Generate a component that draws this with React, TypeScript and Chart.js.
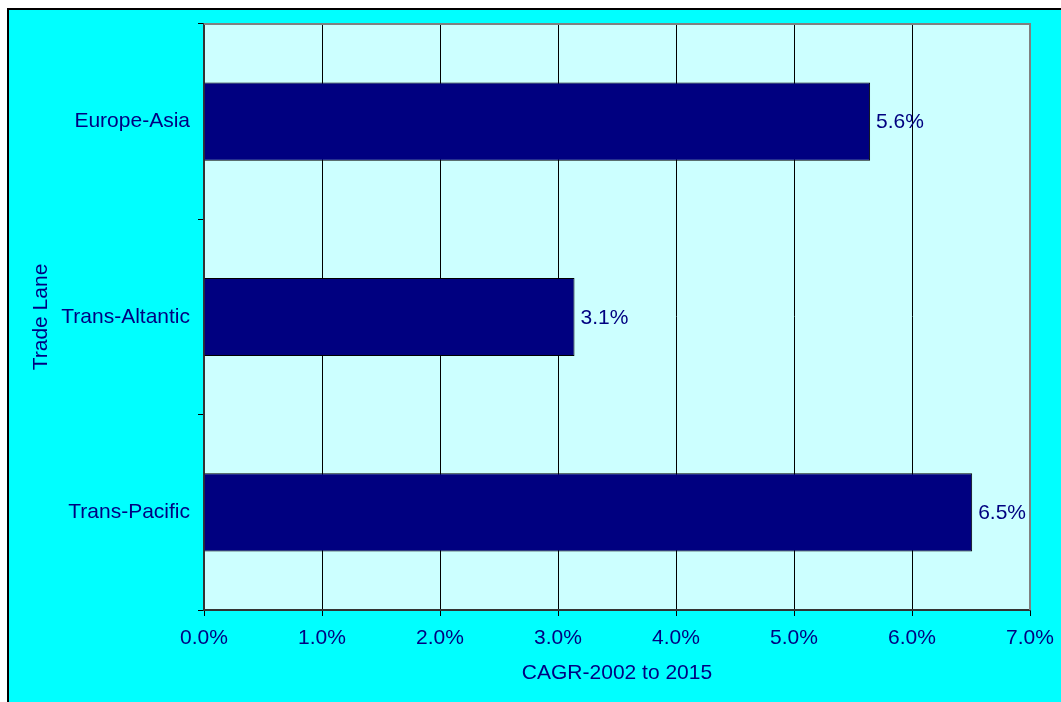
import React, { useEffect, useRef } from "react";
import { Chart, registerables } from "chart.js";

Chart.register(...registerables);

const categories = ["Europe-Asia", "Trans-Altantic", "Trans-Pacific"];
const cagrValues = [5.645, 3.14, 6.51];
const valueLabels = ["5.6%", "3.1%", "6.5%"];
const xTickMin = 0;
const xTickMax = 7;
const xAxisTitle = "CAGR-2002 to 2015";
const yAxisTitle = "Trade Lane";

const NAVY = "#000080";
const FONT_FAMILY = "'Liberation Sans', Arial, sans-serif";
const FONT_SIZE = 21;

const backgroundPlugin = {
  id: "bgPlugin",
  beforeDraw(chart: any) {
    const { ctx, width, height, chartArea } = chart;
    ctx.save();
    ctx.fillStyle = "#00FFFF";
    ctx.fillRect(0, 0, width, height);
    ctx.strokeStyle = "#000000";
    ctx.lineWidth = 2;
    ctx.beginPath();
    ctx.moveTo(1, height + 5);
    ctx.lineTo(1, 1);
    ctx.lineTo(width + 5, 1);
    ctx.stroke();
    ctx.fillStyle = "#CCFFFF";
    ctx.fillRect(chartArea.left, chartArea.top, chartArea.right - chartArea.left, chartArea.bottom - chartArea.top);
    ctx.restore();
  },
  afterDatasetsDraw(chart: any) {
    const { ctx, chartArea } = chart;
    ctx.save();
    ctx.strokeStyle = "#808080";
    ctx.lineWidth = 2;
    ctx.beginPath();
    ctx.moveTo(chartArea.left, chartArea.top);
    ctx.lineTo(chartArea.right, chartArea.top);
    ctx.lineTo(chartArea.right, chartArea.bottom);
    ctx.stroke();
    const meta = chart.getDatasetMeta(0);
    ctx.fillStyle = NAVY;
    ctx.font = `${FONT_SIZE}px ${FONT_FAMILY}`;
    ctx.textAlign = "left";
    ctx.textBaseline = "middle";
    meta.data.forEach((bar: any, i: number) => {
      ctx.fillText(valueLabels[i], bar.x + 6, bar.y + 1);
    });
    ctx.restore();
  },
};

export default function App() {
  const canvasRef = useRef<HTMLCanvasElement | null>(null);

  useEffect(() => {
    document.body.style.overflow = "hidden";
    document.documentElement.style.overflow = "hidden";
    const canvas = canvasRef.current;
    if (!canvas) return;
    const chart = new Chart(canvas, {
      type: "bar",
      data: {
        labels: categories,
        datasets: [
          {
            data: cagrValues,
            backgroundColor: NAVY,
            borderColor: "#000000",
            borderWidth: 1,
            barPercentage: 0.4,
            categoryPercentage: 1,
          },
        ],
      },
      plugins: [backgroundPlugin],
      options: {
        indexAxis: "y",
        animation: false,
        responsive: false,
        maintainAspectRatio: false,
        layout: { padding: { left: 0, top: 16, right: 31, bottom: 0 } },
        plugins: {
          legend: { display: false },
          tooltip: { enabled: false },
        },
        scales: {
          x: {
            type: "linear",
            min: xTickMin,
            max: xTickMax,
            ticks: {
              stepSize: 1,
              color: NAVY,
              font: { family: FONT_FAMILY, size: FONT_SIZE },
              padding: 10,
              callback: (v: any) => Number(v).toFixed(1) + "%",
            },
            grid: {
              color: "#000000",
              lineWidth: 1,
              tickLength: 6,
              drawTicks: true,
            },
            border: { display: true, color: "#333333", width: 2 },
            title: {
              display: true,
              text: xAxisTitle,
              color: NAVY,
              font: { family: FONT_FAMILY, size: FONT_SIZE },
              padding: { top: 0, bottom: 16 },
            },
            afterFit: (scale: any) => {
              scale.height = 92;
              scale.paddingLeft = 0;
              scale.paddingRight = 0;
            },
          },
          y: {
            type: "category",
            offset: true,
            ticks: {
              color: NAVY,
              font: { family: FONT_FAMILY, size: FONT_SIZE },
              padding: 8,
            },
            grid: {
              offset: true,
              drawOnChartArea: false,
              color: "#000000",
              tickLength: 6,
            },
            border: { display: true, color: "#333333", width: 2 },
            title: {
              display: true,
              text: yAxisTitle,
              color: NAVY,
              font: { family: FONT_FAMILY, size: FONT_SIZE },
              padding: { top: 22, bottom: 0 },
            },
            afterFit: (scale: any) => {
              scale.width = 197;
              scale.paddingTop = 0;
              scale.paddingBottom = 0;
            },
          },
        },
      },
    } as any);
    return () => chart.destroy();
  }, []);

  return (
    <div style={{ position: "absolute", left: 7, top: 8, width: 1054, height: 694 }}>
      <canvas ref={canvasRef} width={1054} height={694} style={{ width: 1054, height: 694, display: "block" }} />
    </div>
  );
}
